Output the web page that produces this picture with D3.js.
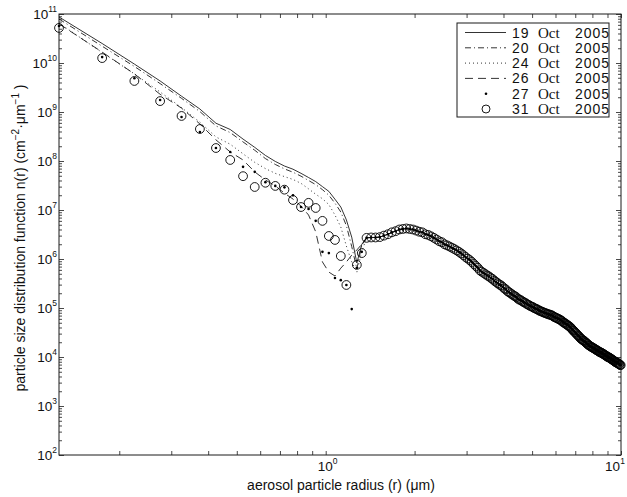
<!DOCTYPE html>
<html><head><meta charset="utf-8">
<script src="https://cdn.jsdelivr.net/npm/d3@7"></script>
<style>body{margin:0;background:#fff} svg{display:block}</style>
</head><body>
<svg id="c" width="627" height="497"></svg>
<script>
// aerosol particle radius grid (µm)
const radius = [
0.125,0.175,0.225,0.275,0.325,0.375,0.425,0.475,0.525,0.575,
0.625,0.675,0.725,0.775,0.825,0.875,0.925,0.975,1.025,1.075,
1.125,1.175,1.225,1.275,1.325,1.375,1.425,1.475,1.525,1.575,
1.625,1.675,1.725,1.775,1.825,1.875,1.925,1.975,
2.025,2.075,2.125,2.175,2.225,2.275,2.325,2.375,2.425,2.475,2.525,2.575,2.625,2.675,2.725,2.775,2.825,2.875,2.925,2.975,
3.025,3.075,3.125,3.175,3.225,3.275,3.325,3.375,3.425,3.475,3.525,3.575,3.625,3.675,3.725,3.775,3.825,3.875,3.925,3.975,
4.025,4.075,4.125,4.175,4.225,4.275,4.325,4.375,4.425,4.475,4.525,4.575,4.625,4.675,4.725,4.775,4.825,4.875,4.925,4.975,
5.025,5.075,5.125,5.175,5.225,5.275,5.325,5.375,5.425,5.475,5.525,5.575,5.625,5.675,5.725,5.775,5.825,5.875,5.925,5.975,
6.025,6.075,6.125,6.175,6.225,6.275,6.325,6.375,6.425,6.475,6.525,6.575,6.625,6.675,6.725,6.775,6.825,6.875,6.925,6.975,
7.025,7.075,7.125,7.175,7.225,7.275,7.325,7.375,7.425,7.475,7.525,7.575,7.625,7.675,7.725,7.775,7.825,7.875,7.925,7.975,
8.025,8.075,8.125,8.175,8.225,8.275,8.325,8.375,8.425,8.475,8.525,8.575,8.625,8.675,8.725,8.775,8.825,8.875,8.925,8.975,
9.025,9.075,9.125,9.175,9.225,9.275,9.325,9.375,9.425,9.475,9.525,9.575,9.625,9.675,9.725,9.775,9.825,9.875,9.925,9.975];

// fine mode (r = 0.125 ... 1.325), one array per date
const oct19 = [8.7e10,2.5e10,9.5e9,4.3e9,2.1e9,1.15e9,5.9e8,4.4e8,2.8e8,1.9e8,1.3e8,9.8e7,7.9e7,6.8e7,5.6e7,4.6e7,3.8e7,3.0e7,2.4e7,1.66e7,1.15e7,6.3e6,2.8e6,8.3e5,2.0e6];
const oct20 = [7.9e10,2.2e10,8.5e9,3.8e9,1.9e9,1.02e9,5.2e8,3.8e8,2.45e8,1.66e8,1.12e8,8.5e7,6.9e7,5.9e7,4.9e7,4.0e7,3.3e7,2.6e7,2.0e7,1.38e7,9.1e6,4.8e6,1.8e6,6.3e5,1.9e6];
const oct24 = [6.5e10,1.64e10,6.0e9,2.56e9,1.23e9,6.2e8,3.1e8,2.2e8,1.4e8,9.4e7,7.0e7,5.6e7,4.8e7,4.2e7,3.5e7,2.7e7,2.1e7,1.7e7,1.29e7,7.9e6,4.5e6,1.84e6,8.7e5,5.4e5,1.4e6];
const oct26 = [6.3e10,1.67e10,6.0e9,2.3e9,1.2e9,5.7e8,2.7e8,1.53e8,1.05e8,6.0e7,4.1e7,3.1e7,2.2e7,1.67e7,1.2e7,7.9e6,3.6e6,8.7e5,5.4e5,4.5e5,6.5e5,8.7e5,1.2e6,1.53e6,2.0e6];
const oct27 = [5.7e10,1.32e10,4.9e9,1.76e9,7.9e8,3.9e8,1.84e8,1.53e8,7.6e7,6.0e7,3.7e7,3.1e7,2.9e7,2.0e7,1.15e7,1.05e7,6.0e6,1.4e6,1.32e6,4.1e5,3.7e5,2.95e5,9.5e4,6.6e5,1.4e6];
const oct31 = [5.2e10,1.26e10,4.3e9,1.67e9,8.3e8,4.5e8,1.84e8,1.05e8,4.9e7,2.95e7,3.6e7,3.1e7,2.6e7,1.6e7,1.15e7,1.4e7,1.1e7,6.0e6,2.95e6,2.45e6,1.15e6,2.95e5,null,7.6e5,1.32e6];

// coarse mode (r = 1.375 ... 9.975): all six dates coincide here
const coarseMode = [
2.7e6,2.75e6,2.75e6,2.8e6,3.0e6,3.2e6,3.5e6,3.7e6,4.0e6,4.1e6,4.2e6,4.1e6,4.0e6,
3.8e6,3.6e6,3.5e6,3.2e6,3.1e6,2.9e6,2.7e6,2.5e6,2.3e6,2.2e6,2.0e6,1.9e6,1.8e6,1.7e6,1.6e6,1.5e6,1.4e6,1.3e6,1.2e6,1.1e6,
1.02e6,9.5e5,8.7e5,7.9e5,7.2e5,6.6e5,5.9e5,5.5e5,5.2e5,4.9e5,4.6e5,4.4e5,4.1e5,3.9e5,3.6e5,3.4e5,3.2e5,3.0e5,2.9e5,2.7e5,
2.5e5,2.4e5,2.2e5,2.1e5,2.0e5,1.9e5,1.8e5,1.74e5,1.66e5,1.55e5,1.48e5,1.45e5,1.38e5,1.32e5,1.29e5,1.23e5,1.18e5,1.15e5,1.10e5,1.07e5,
1.05e5,1.0e5,9.8e4,9.5e4,9.3e4,8.9e4,8.7e4,8.5e4,8.3e4,8.1e4,7.9e4,7.8e4,7.6e4,7.4e4,7.4e4,7.2e4,7.1e4,6.9e4,6.6e4,6.5e4,
6.3e4,6.2e4,6.0e4,5.9e4,5.75e4,5.5e4,5.4e4,5.1e4,5.0e4,4.8e4,4.7e4,4.5e4,4.4e4,4.2e4,4.1e4,3.9e4,3.7e4,3.5e4,3.4e4,3.2e4,
3.1e4,2.95e4,2.8e4,2.7e4,2.6e4,2.45e4,2.35e4,2.3e4,2.2e4,2.15e4,2.1e4,2.0e4,1.95e4,1.86e4,1.82e4,1.74e4,1.70e4,1.66e4,1.62e4,1.58e4,
1.55e4,1.51e4,1.48e4,1.45e4,1.41e4,1.38e4,1.35e4,1.32e4,1.29e4,1.26e4,1.23e4,1.23e4,1.20e4,1.17e4,1.15e4,1.12e4,1.10e4,1.07e4,1.05e4,1.02e4,
1.0e4,9.8e3,9.8e3,9.5e3,9.3e3,9.1e3,8.9e3,8.7e3,8.5e3,8.3e3,8.1e3,7.9e3,7.8e3,7.6e3,7.6e3,7.4e3,7.2e3,7.1e3,6.9e3,6.8e3];

const legendDays = ["19","20","24","26","27","31"];
const legendMonth = "Oct";
const legendYear = "2005";
const yTickExps = [2,3,4,5,6,7,8,9,10,11];
const xTickExps = [0,1];
const xTitle = "aerosol particle radius (r) (\u03BCm)";

const W=627,H=497;
const m={l:59,r:621,t:14,b:455};
const x=d3.scaleLog().domain([0.125,10]).range([m.l,m.r]);
const y=d3.scaleLog().domain([1e2,1e11]).range([m.b,m.t]);
const svg=d3.select("#c");
const SANS="'Liberation Sans', Arial, sans-serif";
const SERIF="'Liberation Serif', 'Times New Roman', serif";

const styles = [
  {kind:"line", dash:null},
  {kind:"line", dash:"6,3,1,3"},
  {kind:"line", dash:"1,3"},
  {kind:"line", dash:"8,5"},
  {kind:"dot"},
  {kind:"circle"}
];
const fineSets=[oct19,oct20,oct24,oct26,oct27,oct31];
const series = fineSets.map((f,i)=>({
  day: legendDays[i], style: styles[i],
  pts: radius.map((r,j)=>({r, v: j<f.length ? f[j] : coarseMode[j-f.length]}))
}));

// axes ticks (inward)
const ink="#1a1a1a";
const xt = x.ticks();
const gB=svg.append("g").attr("transform",`translate(0,${m.b})`).call(d3.axisBottom(x).tickValues(xt).tickSize(-4).tickFormat(""));
const gT=svg.append("g").attr("transform",`translate(0,${m.t})`).call(d3.axisTop(x).tickValues(xt).tickSize(-4).tickFormat(""));
const yAll=y.ticks();
const yMaj=yAll.filter(v=>Math.abs(Math.log10(v)-Math.round(Math.log10(v)))<1e-9);
const yMin=yAll.filter(v=>!yMaj.includes(v));
const gL1=svg.append("g").attr("transform",`translate(${m.l},0)`).call(d3.axisLeft(y).tickValues(yMaj).tickSize(-5).tickFormat(""));
const gL2=svg.append("g").attr("transform",`translate(${m.l},0)`).call(d3.axisLeft(y).tickValues(yMin).tickSize(-3).tickFormat(""));
const gR1=svg.append("g").attr("transform",`translate(${m.r},0)`).call(d3.axisRight(y).tickValues(yMaj).tickSize(-5).tickFormat(""));
const gR2=svg.append("g").attr("transform",`translate(${m.r},0)`).call(d3.axisRight(y).tickValues(yMin).tickSize(-3).tickFormat(""));
[gB,gT,gL1,gL2,gR1,gR2].forEach(g=>{g.select(".domain").remove();g.selectAll("line").attr("stroke",ink).attr("stroke-width",0.8);});

svg.append("rect").attr("x",m.l).attr("y",m.t).attr("width",m.r-m.l).attr("height",m.b-m.t)
  .attr("fill","none").attr("stroke",ink).attr("stroke-width",1);

// tick labels
yTickExps.forEach(e=>{
  const t=svg.append("text").attr("x",57).attr("y",y(Math.pow(10,e))+5)
    .attr("text-anchor","end").attr("font-family",SANS).attr("font-size",13.5).attr("fill","#111");
  t.append("tspan").text("10");
  t.append("tspan").attr("dy",-7).attr("font-size",8.5).text(String(e));
});
xTickExps.forEach(e=>{
  const px = Math.min(x(Math.pow(10,e))+2, 615);
  const t=svg.append("text").attr("x",px).attr("y",471)
    .attr("text-anchor","middle").attr("font-family",SANS).attr("font-size",13.5).attr("fill","#111");
  t.append("tspan").text("10");
  t.append("tspan").attr("dy",-7).attr("font-size",8.5).text(String(e));
});

// axis titles
svg.append("text").attr("x",341).attr("y",490).attr("text-anchor","middle")
  .attr("font-family",SANS).attr("font-size",14).attr("fill","#111").text(xTitle);
const yt=svg.append("text").attr("transform","translate(25,238) rotate(-90)").attr("text-anchor","middle")
  .attr("font-family",SANS).attr("font-size",14).attr("fill","#111");
yt.append("tspan").text("particle size distribution function n(r) (cm");
yt.append("tspan").attr("dy",-6).attr("font-size",10).text("\u22122");
yt.append("tspan").attr("dy",6).text("\u00B7\u03BCm");
yt.append("tspan").attr("dy",-6).attr("font-size",10).text("\u22121");
yt.append("tspan").attr("dy",6).text(" )");

// data
const line=d3.line().defined(d=>d.v!=null).x(d=>x(d.r)).y(d=>y(d.v));
const plot=svg.append("g");
series.forEach(s=>{
  const st=s.style;
  if(st.kind==="line"){
    plot.append("path").datum(s.pts).attr("d",line).attr("fill","none")
      .attr("stroke","#000").attr("stroke-width",0.8)
      .attr("stroke-dasharray",st.dash);
  } else if(st.kind==="dot"){
    plot.append("g").selectAll("circle").data(s.pts.filter(d=>d.v!=null)).join("circle")
      .attr("cx",d=>x(d.r)).attr("cy",d=>y(d.v)).attr("r",1.3).attr("fill","#000");
  } else {
    plot.append("g").selectAll("circle").data(s.pts.filter(d=>d.v!=null)).join("circle")
      .attr("cx",d=>x(d.r)).attr("cy",d=>y(d.v)).attr("r",4.4)
      .attr("fill","none").attr("stroke","#000").attr("stroke-width",0.9);
  }
});

// legend
const lg=svg.append("g");
lg.append("rect").attr("x",457).attr("y",23).attr("width",152).attr("height",94)
  .attr("fill","#fff").attr("stroke",ink).attr("stroke-width",1);
series.forEach((s,i)=>{
  const cy=32.5+i*15.3;
  const st=s.style;
  if(st.kind==="line"){
    lg.append("line").attr("x1",465).attr("x2",506).attr("y1",cy).attr("y2",cy)
      .attr("stroke","#000").attr("stroke-width",0.8).attr("stroke-dasharray",st.dash);
  } else if(st.kind==="dot"){
    lg.append("circle").attr("cx",486).attr("cy",cy).attr("r",1.3).attr("fill","#000");
  } else {
    lg.append("circle").attr("cx",486).attr("cy",cy).attr("r",4).attr("fill","none").attr("stroke","#000").attr("stroke-width",0.9);
  }
  lg.append("text").attr("x",512).attr("y",cy+5).attr("font-family",SANS).attr("font-size",14)
    .attr("letter-spacing",1).attr("fill","#111").text(s.day);
  lg.append("text").attr("x",538).attr("y",cy+5).attr("font-family",SERIF).attr("font-size",15)
    .attr("fill","#111").text(legendMonth);
  lg.append("text").attr("x",575).attr("y",cy+5).attr("font-family",SANS).attr("font-size",14)
    .attr("letter-spacing",1).attr("fill","#111").text(legendYear);
});
</script>
</body></html>
